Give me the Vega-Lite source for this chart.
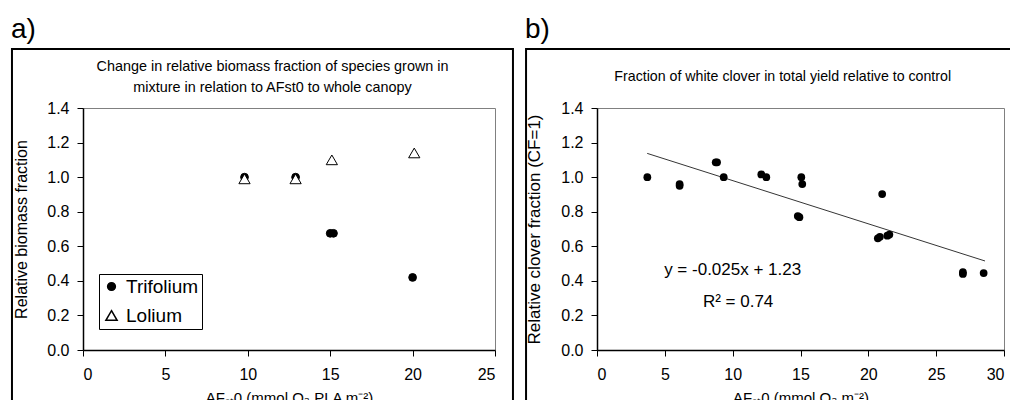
{
  "$schema": "https://vega.github.io/schema/vega-lite/v6.json",
  "padding": {"left": 10, "top": 15, "right": 0, "bottom": 0},
  "spacing": 9,
  "config": {
    "font": "Liberation Sans",
    "view": {"stroke": "#808080", "strokeWidth": 1},
    "axis": {
      "domainColor": "black", "domainWidth": 1.5, "tickColor": "black", "tickWidth": 1, "tickSize": 6,
      "labelColor": "black", "labelFontSize": 16, "labelFont": "Liberation Sans", "labelOverlap": false,
      "titleColor": "black", "titleFontSize": 16, "titleFontWeight": "normal", "titleFont": "Liberation Sans",
      "grid": false, "tickCount": 20
    },
    "axisX": {"labelPadding": 10, "titlePadding": 8, "titleFontSize": 15},
    "axisY": {"labelPadding": 8, "titlePadding": 17},
    "title": {"anchor": "start", "fontSize": 28, "fontWeight": "normal", "color": "black", "frame": "bounds", "baseline": "alphabetic", "offset": 4, "font": "Liberation Sans"},
    "text": {"font": "Liberation Sans", "color": "black"}
  },
  "hconcat": [
    {
      "title": "a)",
      "width": 412,
      "height": 242,
      "layer": [
        {
          "data": {"values": [{}]},
          "mark": {"type": "rect", "filled": false, "stroke": "black", "strokeWidth": 2, "clip": false},
          "encoding": {
            "x": {"datum": -4.31, "type": "quantitative", "scale": {"domain": [0, 25], "nice": false, "zero": false},
                  "axis": {"title": "AFₛₜ0 (mmol O₃ PLA m⁻²)", "values": [0, 5, 10, 15, 20, 25], "tickCount": 20, "format": "d"}},
            "x2": {"datum": 26.09},
            "y": {"datum": 1.741, "type": "quantitative", "scale": {"domain": [0, 1.4], "nice": false, "zero": false},
                  "axis": {"title": "Relative biomass fraction", "values": [0, 0.2, 0.4, 0.6, 0.8, 1.0, 1.2, 1.4], "tickCount": 20, "format": ".1f", "labelOverlap": false}},
            "y2": {"datum": -0.5}
          }
        },
        {
          "data": {"values": [{}]},
          "mark": {"type": "text", "text": ["Change in relative biomass fraction of species grown in", "mixture in relation to AFst0 to whole canopy"], "fontSize": 14.4, "lineHeight": 20.5, "baseline": "middle", "align": "center"},
          "encoding": {
            "x": {"datum": 11.5, "type": "quantitative"},
            "y": {"datum": 1.637, "type": "quantitative"}
          }
        },
        {
          "data": {"values": [
            {"x": 9.8, "y": 1.0, "species": "Trifolium"},
            {"x": 12.9, "y": 1.0, "species": "Trifolium"},
            {"x": 15.0, "y": 0.675, "species": "Trifolium"},
            {"x": 15.2, "y": 0.675, "species": "Trifolium"},
            {"x": 20.0, "y": 0.42, "species": "Trifolium"},
            {"x": 9.8, "y": 0.99, "species": "Lolium"},
            {"x": 12.9, "y": 0.99, "species": "Lolium"},
            {"x": 15.1, "y": 1.10, "species": "Lolium"},
            {"x": 20.1, "y": 1.14, "species": "Lolium"}
          ]},
          "mark": {"type": "point", "filled": true, "stroke": "black", "strokeWidth": 1, "opacity": 1, "size": 60},
          "encoding": {
            "x": {"field": "x", "type": "quantitative"},
            "y": {"field": "y", "type": "quantitative"},
            "shape": {"field": "species", "type": "nominal",
                      "scale": {"domain": ["Trifolium", "Lolium"], "range": ["circle", "M0,-1.25L1.45,1.25L-1.45,1.25Z"]},
                      "legend": {"title": null, "orient": "none", "legendX": 16, "legendY": 166, "strokeColor": "black", "padding": 3, "labelFontSize": 19, "labelColor": "black", "symbolSize": 60, "rowPadding": 9, "labelOffset": 5,
                                 "encode": {"symbols": {"update": {"stroke": {"value": "black"}, "strokeWidth": {"value": 1}}}}}},
            "fill": {"field": "species", "type": "nominal",
                     "scale": {"domain": ["Trifolium", "Lolium"], "range": ["black", "white"]},
                     "legend": {"title": null, "orient": "none", "legendX": 16, "legendY": 166, "strokeColor": "black", "padding": 3, "labelFontSize": 19, "labelColor": "black", "symbolSize": 60, "rowPadding": 9, "labelOffset": 5,
                                "encode": {"symbols": {"update": {"stroke": {"value": "black"}, "strokeWidth": {"value": 1}}}}}}
          }
        }
      ]
    },
    {
      "title": "b)",
      "width": 407,
      "height": 242,
      "layer": [
        {
          "data": {"values": [{}]},
          "mark": {"type": "rect", "filled": false, "stroke": "black", "strokeWidth": 2, "clip": false},
          "encoding": {
            "x": {"datum": -5.23, "type": "quantitative", "scale": {"domain": [0, 30], "nice": false, "zero": false},
                  "axis": {"title": "AFₛₜ0 (mmol O₃ m⁻²)", "values": [0, 5, 10, 15, 20, 25, 30], "tickCount": 20, "format": "d"}},
            "x2": {"datum": 31.0},
            "y": {"datum": 1.741, "type": "quantitative", "scale": {"domain": [0, 1.4], "nice": false, "zero": false},
                  "axis": {"title": "Relative clover fraction (CF=1)", "titleFontSize": 17, "values": [0, 0.2, 0.4, 0.6, 0.8, 1.0, 1.2, 1.4], "tickCount": 20, "format": ".1f", "labelOverlap": false}},
            "y2": {"datum": -0.5}
          }
        },
        {
          "data": {"values": [{}]},
          "mark": {"type": "text", "text": "Fraction of white clover in total yield relative to control", "fontSize": 14.2, "baseline": "middle", "align": "center"},
          "encoding": {
            "x": {"datum": 13.69, "type": "quantitative"},
            "y": {"datum": 1.58, "type": "quantitative"}
          }
        },
        {
          "data": {"values": [{"x": 3.7, "y": 1.1375}, {"x": 28.6, "y": 0.515}]},
          "mark": {"type": "line", "color": "black", "strokeWidth": 0.8},
          "encoding": {
            "x": {"field": "x", "type": "quantitative"},
            "y": {"field": "y", "type": "quantitative"}
          }
        },
        {
          "data": {"values": [
            {"x": 3.71, "y": 1.0},
            {"x": 6.09, "y": 0.96},
            {"x": 6.09, "y": 0.95},
            {"x": 8.75, "y": 1.086},
            {"x": 8.85, "y": 1.086},
            {"x": 9.34, "y": 1.0},
            {"x": 12.11, "y": 1.016},
            {"x": 12.48, "y": 1.0},
            {"x": 15.06, "y": 1.0},
            {"x": 15.13, "y": 0.96},
            {"x": 14.8, "y": 0.775},
            {"x": 14.92, "y": 0.768},
            {"x": 21.02, "y": 0.902},
            {"x": 20.7, "y": 0.646},
            {"x": 20.85, "y": 0.655},
            {"x": 21.4, "y": 0.661},
            {"x": 21.55, "y": 0.668},
            {"x": 26.97, "y": 0.44},
            {"x": 26.97, "y": 0.45},
            {"x": 28.5, "y": 0.445}
          ]},
          "mark": {"type": "point", "filled": true, "color": "black", "opacity": 1, "size": 60},
          "encoding": {
            "x": {"field": "x", "type": "quantitative"},
            "y": {"field": "y", "type": "quantitative"}
          }
        },
        {
          "data": {"values": [{}]},
          "mark": {"type": "text", "text": "y = -0.025x + 1.23", "fontSize": 17, "baseline": "middle", "align": "center"},
          "encoding": {
            "x": {"datum": 10.0, "type": "quantitative"},
            "y": {"datum": 0.463, "type": "quantitative"}
          }
        },
        {
          "data": {"values": [{}]},
          "mark": {"type": "text", "text": "R² = 0.74", "fontSize": 17, "baseline": "middle", "align": "center"},
          "encoding": {
            "x": {"datum": 10.4, "type": "quantitative"},
            "y": {"datum": 0.278, "type": "quantitative"}
          }
        }
      ]
    }
  ]
}
